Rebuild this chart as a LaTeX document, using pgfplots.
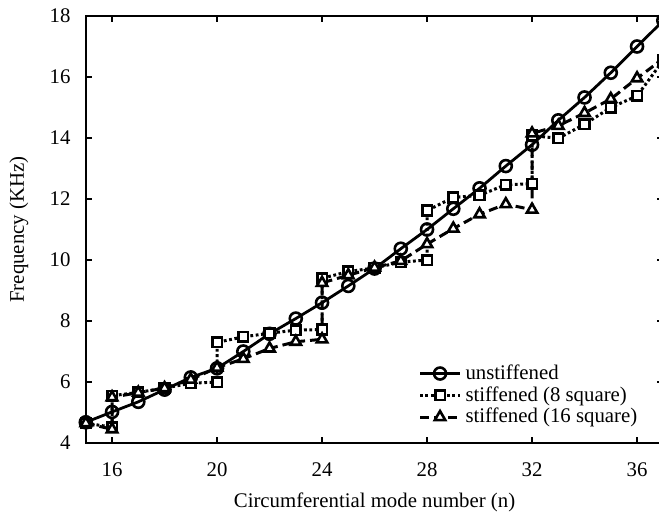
\documentclass[border=0pt]{standalone}
\usepackage{fontspec}
\setmainfont{Liberation Serif}
\usepackage{pgfplots}
\pgfplotsset{compat=1.18}

% Natural frequencies of the cylinder for each circumferential mode n.
% Stiffened series carry two values at the n where the mode family jumps.
\pgfplotstableread{
n f
15 4.68
16 5.02
17 5.35
18 5.75
19 6.15
20 6.45
21 7.00
22 7.58
23 8.08
24 8.60
25 9.15
26 9.72
27 10.37
28 11.00
29 11.68
30 12.35
31 13.08
32 13.78
33 14.58
34 15.33
35 16.14
36 17.00
37 17.85
}\unstiffened

\pgfplotstableread{
n f
15 4.65
16 4.52
16 5.55
17 5.66
18 5.80
19 5.96
20 6.00
20 7.30
21 7.48
22 7.60
23 7.70
24 7.72
24 9.40
25 9.62
26 9.74
27 9.93
28 10.00
28 11.62
29 12.05
30 12.12
31 12.47
32 12.50
32 14.08
33 13.99
34 14.45
35 15.00
36 15.38
37 16.55
}\stiffeight

\pgfplotstableread{
n f
15 4.65
16 4.45
16 5.50
17 5.65
18 5.80
19 6.08
20 6.47
21 6.76
22 7.10
23 7.32
24 7.40
24 9.25
25 9.50
26 9.75
27 9.97
28 10.52
29 11.03
30 11.50
31 11.83
32 11.65
32 14.15
33 14.40
34 14.82
35 15.28
36 15.96
37 16.60
}\stiffsixteen

\begin{document}
\fontsize{10.4}{12.5}\selectfont
\begin{tikzpicture}
\begin{axis}[
  at={(0,0)}, anchor=south west,
  scale only axis,
  width=288.75pt, height=213.5pt,
  xmin=15, xmax=37, ymin=4, ymax=18,
  xtick={16,20,...,36}, ytick={4,6,...,18},
  tick align=inside,
  major tick length=3pt,
  axis line style={line width=1pt},
  every tick/.style={black, line width=0.8pt},
  /pgf/number format/assume math mode=true,
  xticklabel style={yshift=-6pt},
  yticklabel style={xshift=-4pt},
  xlabel={Circumferential mode number (n)},
  ylabel={Frequency (KHz)},
  xlabel style={at={(axis description cs:0.5,-0.138)}, anchor=center},
  ylabel style={at={(axis description cs:-0.1157,0.5)}, anchor=center},
  legend style={draw=none, fill=none, at={(0.966,0.025)}, anchor=south east,
    row sep=-2pt, inner sep=1pt},
  legend cell align=left,
  legend image code/.code={\draw[mark repeat=2,mark phase=2,#1]
    plot coordinates {(0pt,0pt) (10pt,0pt) (20pt,0pt)};},
]
\addplot[black, line width=1.4pt, mark=o,
  mark options={solid, fill=white, line width=1.3pt}, mark size=3pt]
  table[x=n, y=f] {\unstiffened};
\addlegendentry{unstiffened}

\addplot[black, line width=1.5pt, dash pattern=on 1.4pt off 1.3pt, mark=square*,
  mark options={solid, fill=white, line width=1.3pt}, mark size=2.4pt]
  table[x=n, y=f] {\stiffeight};
\addlegendentry{stiffened (8 square)}

\addplot[black, line width=1.5pt, dash pattern=on 4.5pt off 2.5pt, mark=triangle*,
  mark options={solid, fill=white, line width=1.3pt}, mark size=3pt]
  table[x=n, y=f] {\stiffsixteen};
\addlegendentry{stiffened (16 square)}
\end{axis}
\pgfresetboundingbox
\path (-42.9pt,-36.5pt) rectangle (286.6pt,221.5pt);
\end{tikzpicture}
\end{document}
